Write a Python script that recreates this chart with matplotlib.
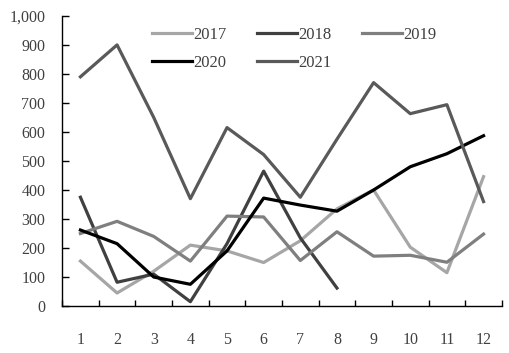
import matplotlib.pyplot as plt
from matplotlib.ticker import FuncFormatter, MultipleLocator
import numpy as np

# 월별 데이터
months = list(range(1, 13))
y2017 = [155, 45, 120, 210, 190, 150, 225, 335, 400, 203, 115, 446]
y2018 = [375, 82, 110, 15, 215, 465, 235, 62]
y2019 = [250, 292, 240, 155, 310, 307, 157, 256, 172, 175, 151, 248]
y2020 = [262, 215, 100, 75, 190, 372, 348, 327, 400, 480, 525, 587]
y2021 = [790, 900, 650, 370, 615, 522, 375, 575, 770, 663, 694, 360]

series = [
    ("2017", y2017, "#a6a6a6"),
    ("2018", y2018, "#404040"),
    ("2019", y2019, "#7f7f7f"),
    ("2020", y2020, "#000000"),
    ("2021", y2021, "#595959"),
]

plt.rcParams['font.family'] = ['Liberation Serif', 'DejaVu Serif']

fig = plt.figure(figsize=(5.09, 3.53), dpi=100)
ax = fig.add_axes([0.122, 0.133, 0.864, 0.822])

lines = {}
for name, vals, col in series:
    lines[name], = ax.plot(months[:len(vals)], vals, color=col, linewidth=2.3, label=name)

ax.set_xlim(0.5, 12.5)
ax.set_ylim(0, 1000)
ax.yaxis.set_major_locator(MultipleLocator(100))
ax.yaxis.set_major_formatter(FuncFormatter(lambda v, p: f"{int(v):,}"))
ax.set_xticks(months)
ax.set_xticks(np.arange(0.5, 13, 1), minor=True)
ax.tick_params(axis='x', which='major', length=0, pad=19, labelsize=11.5, labelcolor='#404040')
ax.tick_params(axis='x', which='minor', direction='in', length=4, width=1)
ax.tick_params(axis='y', direction='in', length=5, width=1, labelsize=11.5, labelcolor='#404040', pad=12)

for s in ['top', 'right']:
    ax.spines[s].set_visible(False)
for s in ['left', 'bottom']:
    ax.spines[s].set_linewidth(1)

# 범례: 행 우선 배치
order = ["2017", "2020", "2018", "2021", "2019"]
ax.legend([lines[k] for k in order], order, ncol=3, loc='upper left',
          bbox_to_anchor=(0.17, 1.015), frameon=False,
          fontsize=12, labelcolor='#404040', handlelength=2.4, handletextpad=0.1,
          columnspacing=1.8, labelspacing=0.75)

fig.savefig('out.png', dpi=100)
